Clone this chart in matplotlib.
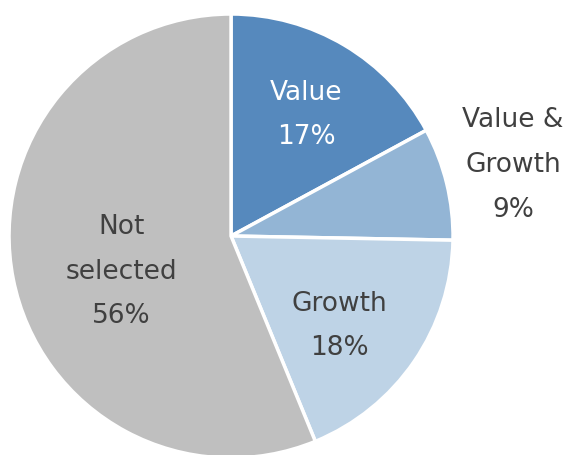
import matplotlib
matplotlib.use("Agg")
import matplotlib.pyplot as plt

labels = ["Value\n17%", "Value &\nGrowth\n9%", "Growth\n18%", "Not\nselected\n56%"]
shares = [17.1, 8.2, 18.5, 56.2]
colors = ["#5689BD", "#93B5D5", "#BED3E6", "#BFBFBF"]
text_colors = ["white", "#404040", "#404040", "#404040"]
# label centres in pie-radius units
label_xy = [(0.34, 0.545), (1.27, 0.32), (0.49, -0.405), (-0.495, -0.16)]

fig = plt.figure(figsize=(5.71, 4.55), dpi=100)
ax = fig.add_axes([0.0158, -0.0066, 0.7776, 0.9758])

ax.pie(shares, colors=colors, startangle=90, counterclock=False, radius=1,
       wedgeprops=dict(edgecolor="white", linewidth=2.5))

for lab, (x, y), c in zip(labels, label_xy, text_colors):
    ax.text(x, y, lab, ha="center", va="center", color=c, fontsize=19,
            linespacing=1.93)

ax.set_xlim(-1, 1)
ax.set_ylim(-1, 1)
ax.set_aspect("equal")
ax.axis("off")

fig.savefig("out.png", dpi=100)
